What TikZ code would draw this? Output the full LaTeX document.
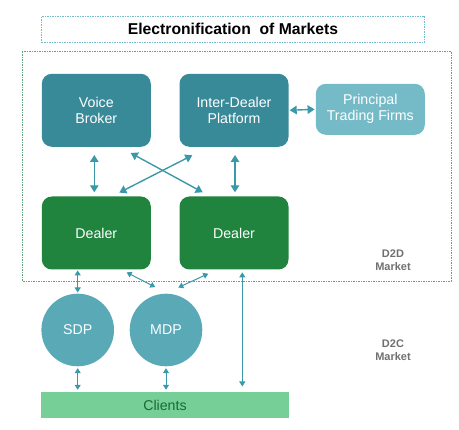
\documentclass[tikz,border=0pt]{standalone}
\usepackage{fontspec}
\setmainfont{Liberation Sans}
\usepackage{tikz}
\usetikzlibrary{shapes, arrows.meta, positioning}
\definecolor{tealdark}{HTML}{398A99}
\definecolor{teallight}{HTML}{74BBC7}
\definecolor{tealmid}{HTML}{59A9B6}
\definecolor{dealergreen}{HTML}{20843F}
\definecolor{clientgreen}{HTML}{77CF98}
\definecolor{arrowteal}{HTML}{3A99A9}
\definecolor{marketgray}{HTML}{707070}
\tikzstyle{venue} = [rectangle, rounded corners=10pt, fill=tealdark, text=white, minimum width=109pt, minimum height=73pt, align=center, font=\fontsize{14.2}{16}\selectfont]
\tikzstyle{firms} = [venue, fill=teallight, minimum height=51pt]
\tikzstyle{dealer} = [venue, fill=dealergreen]
\tikzstyle{platform} = [circle, fill=tealmid, text=white, minimum size=72.6pt, inner sep=0pt, font=\fontsize{14.2}{16}\selectfont]
\tikzstyle{market} = [text=marketgray, align=center, font=\fontsize{11}{12.5}\bfseries\selectfont]
\tikzstyle{link} = [arrowteal, line width=1.4pt, {Triangle[length=7pt,width=8.5pt]}-{Triangle[length=7pt,width=8.5pt]}]
\tikzstyle{thinlink} = [arrowteal, line width=1pt, {Triangle[length=5pt,width=6pt]}-{Triangle[length=5pt,width=6pt]}]

\begin{document}
\begin{tikzpicture}[x=1pt, y=-1pt]
	\useasboundingbox (0,0) rectangle (459,430);
	% frames
	\node [draw=teallight, dash pattern=on 1.5pt off 1pt, line width=0.6pt, minimum width=382.6pt, minimum height=26.7pt, font=\fontsize{15.7}{17}\bfseries\selectfont] (title) at (233,29.3) {Electronification\ \ of Markets};
	\draw [draw=clientgreen!80!black, dash pattern=on 1.5pt off 1pt, line width=0.6pt] (22.3,51.7) rectangle (451,281);
	% upper row
	\node [venue] (voice) at (96.3,110.3) {Voice\\Broker};
	\node [venue] (idp) at (234,110.3) {Inter-Dealer\\Platform};
	\node [firms] (ptf) at (370.3,109.3) {Principal\\Trading Firms};
	% dealers
	\node [dealer] (dealerA) at (96.3,233) {Dealer};
	\node [dealer] (dealerB) at (234,233) {Dealer};
	\node [market] (d2d) at (393,260) {D2D\\Market};
	% D2C side
	\node [platform] (sdp) at (77.7,330) {SDP};
	\node [platform] (mdp) at (166,330) {MDP};
	\node [market] (d2c) at (393,350) {D2C\\Market};
	\node [rectangle, fill=clientgreen, text=dealergreen!80!black, minimum width=247.5pt, minimum height=25.4pt, font=\fontsize{14.2}{16}\selectfont] (clients) at (165,405) {Clients};
	% connectors
	\draw [link, shorten <=1pt, shorten >=1pt] (idp.east) -- (ptf.west);
	\draw [link, shorten <=8pt, shorten >=4pt] ([xshift=-2pt]voice.south) -- ([xshift=-2pt]dealerA.north);
	\draw [link, shorten <=8pt, shorten >=4pt] ([xshift=1pt]idp.south) -- ([xshift=1pt]dealerB.north);
	\draw [link] ([xshift=-20.3pt, yshift=-6pt]voice.south east) -- ([xshift=23.4pt, yshift=4pt]dealerB.north west);
	\draw [link] ([xshift=13pt, yshift=-8.3pt]idp.south west) -- ([xshift=-31.7pt, yshift=3.7pt]dealerA.north east);
	\draw [thinlink, shorten <=0.7pt, shorten >=1pt] (sdp.north |- dealerA.south) -- (sdp.north);
	\draw [thinlink] ([xshift=-24.4pt, yshift=-2.7pt]dealerA.south east) -- ([xshift=-10.7pt, yshift=6.4pt]mdp.north);
	\draw [thinlink] ([xshift=29pt, yshift=-4pt]dealerB.south west) -- ([xshift=12.3pt, yshift=6pt]mdp.north);
	\draw [thinlink, shorten <=2.7pt, shorten >=5.6pt] ([xshift=8.3pt]dealerB.south) -- ([xshift=8.3pt]dealerB.south |- clients.north);
	\draw [thinlink, shorten <=1.7pt, shorten >=2.3pt] (sdp.south) -- (sdp.south |- clients.north);
	\draw [thinlink, shorten <=1.7pt, shorten >=2.3pt] (mdp.south) -- (mdp.south |- clients.north);
\end{tikzpicture}
\end{document}
